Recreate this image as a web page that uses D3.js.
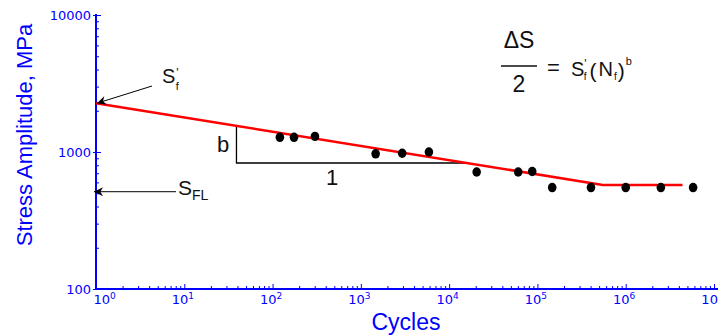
<!DOCTYPE html>
<html>
<head>
<meta charset="utf-8">
<script src="https://cdn.jsdelivr.net/npm/d3@7"></script>
<style>
  html, body { margin: 0; padding: 0; background: #fff; }
  svg { display: block; }
  text { font-family: "Liberation Sans", Arial, sans-serif; }
</style>
</head>
<body>
<svg id="chart" width="718" height="335"></svg>
<script>
// ---- data ----
const testCycles = [121, 175, 302, 1470, 2940, 5900, 20500, 60600, 87300, 147000, 404000, 1000000, 2500000, 5800000];
const testStress = [1280, 1280, 1300, 970, 980, 1000, 715, 715, 720, 550, 550, 550, 550, 550];
const fitCycles = [1, 550000, 4400000];
const fitStress = [2270, 575, 575];
const slopeCycles = [39, 39, 15900];      // slope triangle corners
const slopeStress = [1550, 831, 831];
const xMajorTicks = [1, 10, 100, 1000, 10000, 100000, 1000000, 10000000];
const xTickExponents = ["0", "1", "2", "3", "4", "5", "6", "7"];
const yMajorTicks = [100, 1000, 10000];
const yTickLabels = ["100", "1000", "10000"];
const fatigueStrengthStress = 2270;   // S'f at N = 1
const fatigueLimitStress = 513;       // S_FL arrow level

const blue = "#0000ff";
const ink = "#111";
const svg = d3.select("#chart");

const x = d3.scaleLog().domain([1, 1e7]).range([96, 714]);
const y = d3.scaleLog().domain([100, 10000]).range([289, 15]);

// minor ticks
const minorX = [];
for (let e = 0; e < 7; e++) for (let m = 2; m <= 9; m++) minorX.push(m * Math.pow(10, e));
const minorY = [];
for (let e = 2; e < 4; e++) for (let m = 2; m <= 9; m++) minorY.push(m * Math.pow(10, e));

// ---- x axis ----
const gx = svg.append("g").attr("transform", "translate(0,289)");
gx.append("g").call(d3.axisBottom(x).tickValues(minorX).tickSizeInner(-3).tickSizeOuter(0).tickFormat(""))
  .call(g => g.select(".domain").remove())
  .call(g => g.selectAll("line").attr("stroke", blue).attr("stroke-width", 1));
const gxMaj = gx.append("g").call(d3.axisBottom(x).tickValues(xMajorTicks).tickSizeInner(-5).tickSizeOuter(0).tickFormat(""));
gxMaj.select(".domain").remove();
gxMaj.selectAll("line").attr("stroke", blue).attr("stroke-width", 1);
gxMaj.selectAll(".tick").each(function(d, i) {
  const t = d3.select(this).append("text")
    .attr("fill", blue)
    .attr("y", 15)
    .attr("text-anchor", i === 0 ? "start" : "middle")
    .attr("x", i === 0 ? -3 : -2)
    .style("font-family", "'DejaVu Sans', sans-serif")
    .style("font-size", "13px");
  t.append("tspan").text("10");
  t.append("tspan").attr("dy", -5).style("font-size", "9px").text(xTickExponents[i]);
});
gx.append("line").attr("x1", 95).attr("x2", 718).attr("y1", 0).attr("y2", 0)
  .attr("stroke", blue).attr("stroke-width", 2);

// ---- y axis ----
const gy = svg.append("g").attr("transform", "translate(96,0)");
gy.append("g").call(d3.axisLeft(y).tickValues(minorY).tickSizeInner(-3).tickSizeOuter(0).tickFormat(""))
  .call(g => g.select(".domain").remove())
  .call(g => g.selectAll("line").attr("stroke", blue).attr("stroke-width", 1));
const gyMaj = gy.append("g").call(d3.axisLeft(y).tickValues(yMajorTicks).tickSizeInner(-5).tickSizeOuter(0).tickPadding(5)
  .tickFormat((d, i) => yTickLabels[i]));
gyMaj.select(".domain").remove();
gyMaj.selectAll("line").attr("stroke", blue).attr("stroke-width", 1).attr("x1", -3);
gyMaj.selectAll("text").attr("fill", blue)
  .style("font-family", "'DejaVu Sans', sans-serif").style("font-size", "13px");
gy.append("line").attr("x1", 0).attr("x2", 0).attr("y1", y(10000) - 1).attr("y2", 290)
  .attr("stroke", blue).attr("stroke-width", 2);

// ---- axis titles ----
svg.append("text").attr("x", 406).attr("y", 330).attr("text-anchor", "middle")
  .attr("fill", blue).style("font-size", "23px").text("Cycles");
svg.append("text").attr("transform", "translate(32,135) rotate(-90)").attr("text-anchor", "middle")
  .attr("fill", blue).style("font-size", "22px").text("Stress Amplitude, MPa");

// ---- slope triangle ----
const tri = d3.line().x((d, i) => x(slopeCycles[i])).y((d, i) => y(slopeStress[i]));
svg.append("path").datum(slopeCycles).attr("d", tri)
  .attr("fill", "none").attr("stroke", "#000").attr("stroke-width", 1.3);
svg.append("text").attr("x", 217).attr("y", 152).style("font-size", "22px").attr("fill", ink).text("b");
svg.append("text").attr("x", 332).attr("y", 185).attr("text-anchor", "middle").style("font-size", "22px").attr("fill", ink).text("1");

// ---- fit line ----
const fitLine = d3.line().x((d, i) => x(fitCycles[i])).y((d, i) => y(fitStress[i]));
svg.append("path").datum(fitCycles).attr("d", fitLine)
  .attr("fill", "none").attr("stroke", "#ff0000").attr("stroke-width", 2.6);

// ---- test points ----
svg.append("g").selectAll("ellipse").data(testCycles).join("ellipse")
  .attr("cx", (d) => x(d)).attr("cy", (d, i) => y(testStress[i]))
  .attr("rx", 4.3).attr("ry", 4.7).attr("fill", "#000");

// ---- arrows ----
const defs = svg.append("defs");
defs.append("marker").attr("id", "arrow").attr("viewBox", "0 0 10 10")
  .attr("refX", 10).attr("refY", 5).attr("markerWidth", 10).attr("markerHeight", 9)
  .attr("markerUnits", "userSpaceOnUse").attr("orient", "auto")
  .append("path").attr("d", "M0,0 L10,5 L0,10 L3,5 Z").attr("fill", "#000");

svg.append("line").attr("x1", 152).attr("y1", 86).attr("x2", x(1) + 1).attr("y2", y(fatigueStrengthStress))
  .attr("stroke", "#000").attr("stroke-width", 1).attr("marker-end", "url(#arrow)");
svg.append("line").attr("x1", 176).attr("y1", y(fatigueLimitStress)).attr("x2", x(1) - 2).attr("y2", y(fatigueLimitStress))
  .attr("stroke", "#000").attr("stroke-width", 1).attr("marker-end", "url(#arrow)");

// S'f label (prime above subscript f)
const sf = svg.append("text").attr("x", 162).attr("y", 83).attr("fill", ink).style("font-size", "20px");
sf.append("tspan").text("S");
sf.append("tspan").attr("dx", 1).attr("dy", -6.5).style("font-size", "12px").text("'");
sf.append("tspan").attr("dx", -3).attr("dy", 13.5).style("font-size", "11px").text("f");

// S_FL label
const sfl = svg.append("text").attr("x", 178).attr("y", 195).attr("fill", ink).style("font-size", "21px");
sfl.append("tspan").text("S");
sfl.append("tspan").attr("dy", 5).style("font-size", "14px").text("FL");

// ---- formula ----
const fg = svg.append("g").attr("fill", ink);
fg.append("text").attr("x", 519).attr("y", 48).attr("text-anchor", "middle").style("font-size", "23px").text("ΔS");
fg.append("line").attr("x1", 501).attr("x2", 537).attr("y1", 66).attr("y2", 66).attr("stroke", ink).attr("stroke-width", 1.5);
fg.append("text").attr("x", 519).attr("y", 92).attr("text-anchor", "middle").style("font-size", "23px").text("2");
fg.append("text").attr("x", 553.5).attr("y", 75).attr("text-anchor", "middle").style("font-size", "22px").text("=");
const rhs = fg.append("text").attr("x", 571).attr("y", 76).style("font-size", "20px");
rhs.append("tspan").text("S");
rhs.append("tspan").attr("dx", 0).attr("dy", -8).style("font-size", "12px").text("'");
rhs.append("tspan").attr("dx", -3).attr("dy", 12).style("font-size", "10px").text("f");
rhs.append("tspan").attr("dx", 3).attr("dy", -2).style("font-size", "21px").text("(");
rhs.append("tspan").attr("dx", 2).attr("dy", -2).style("font-size", "20px").text("N");
rhs.append("tspan").attr("dx", 1).attr("dy", 4).style("font-size", "10px").text("f");
rhs.append("tspan").attr("dx", 1).attr("dy", -2).style("font-size", "21px").text(")");
rhs.append("tspan").attr("dx", 1).attr("dy", -13).style("font-size", "11px").text("b");
</script>
</body>
</html>
